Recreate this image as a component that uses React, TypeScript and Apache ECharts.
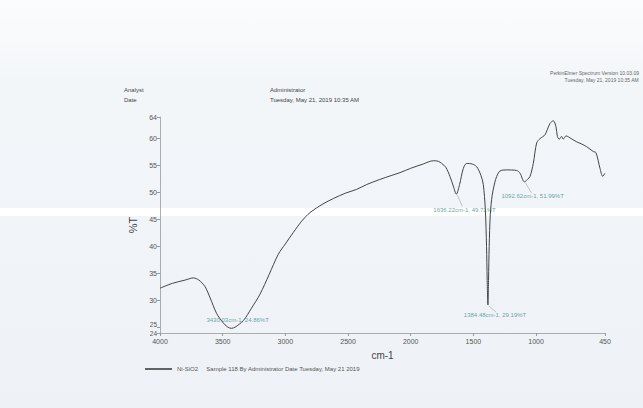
import React, { useEffect, useRef } from "react";
import * as echarts from "echarts";

const wavenumbers = [4000, 3900, 3800, 3734, 3690, 3641, 3600, 3548, 3500, 3460, 3430, 3400, 3335, 3270, 3202, 3130, 3056, 3000, 2937, 2870, 2803, 2700, 2617, 2520, 2431, 2351, 2250, 2150, 2085, 2000, 1900, 1820, 1780, 1753, 1720, 1687, 1660, 1636, 1610, 1580, 1553, 1510, 1474, 1440, 1421, 1405, 1395, 1390, 1384, 1379, 1374, 1365, 1350, 1330, 1314, 1288, 1234, 1155, 1128, 1093, 1070, 1048, 1022, 995, 968, 929, 889, 862, 841, 830, 815, 796, 783, 761, 720, 676, 636, 596, 543, 522, 490, 468, 450];
const transmittance = [32.3, 33.2, 33.8, 34.2, 33.8, 32.6, 30.5, 27.6, 26.0, 25.1, 24.86, 25.1, 26.3, 28.6, 31.2, 34.8, 38.6, 40.5, 42.6, 44.7, 46.3, 47.9, 48.9, 49.9, 50.6, 51.5, 52.4, 53.2, 53.7, 54.5, 55.3, 55.9, 55.8, 55.4, 54.7, 53.0, 51.2, 49.71, 51.5, 54.5, 55.4, 55.3, 54.8, 53.2, 51.5, 47, 40, 34, 29.19, 34, 40, 46, 49.5, 51.8, 53, 54, 54.2, 54.1, 53.6, 51.99, 52.4, 53, 55.4, 59.2, 60.0, 60.7, 62.8, 63.3, 62.2, 60.4, 59.9, 60.4, 59.9, 60.5, 60.0, 59.4, 59.0, 58.5, 57.6, 57.4, 54.5, 53.0, 53.6];

const xTickLabels = [4000, 3500, 3000, 2500, 2000, 1500, 1000, 450];
const yTickValues = [24, 25, 30, 35, 40, 45, 50, 55, 60, 64];
const yTickLabels = [30, 35, 40, 45, 50, 55, 60, 64];
const yLabel25 = [25];
const yLabel24 = [24];

const peakWn = [3430.03, 1636.22, 1384.48, 1092.62];
const peakT = [24.86, 49.71, 29.19, 51.99];
const peakOffsets = [[-25, -8], [-23, 16], [-24, 10], [-23, 14]];
const leaderEnds = [null, [6, 12], [8, 7], [7, 11]];

export default function App() {
  const ref = useRef<HTMLDivElement>(null);
  useEffect(() => {
    const chart = echarts.init(ref.current!, null, { renderer: "svg" });
    const line = wavenumbers.map((w, i) => [w, transmittance[i]]);
    const font = "Arial, 'Liberation Sans', sans-serif";
    const peaks = peakWn.map((w, i) => ({
      value: [w, peakT[i]],
      label: {
        show: true,
        position: "inside",
        align: "left",
        verticalAlign: "middle",
        formatter: `${w.toFixed(2)}cm-1, ${peakT[i].toFixed(2)}%T`,
      },
    }));
    const yLabelBase = { fontSize: 7, color: "#555", margin: 3, fontFamily: font, formatter: (v: number) => String(v) };
    const hiddenAxis = {
      type: "value",
      min: 24,
      max: 64,
      position: "left",
      axisLine: { show: false },
      axisTick: { show: false },
      splitLine: { show: false },
    };
    const staticGraphic: any[] = [
      { id: "band", type: "rect", shape: { x: 0, y: 208, width: 643, height: 8 }, style: { fill: "#ffffff" }, z: -10 },
      { id: "t1", type: "text", left: 124, top: 87, style: { text: "Analyst", fontSize: 6, fill: "#444", fontFamily: font } },
      { id: "t2", type: "text", left: 124, top: 97, style: { text: "Date", fontSize: 6, fill: "#444", fontFamily: font } },
      { id: "t3", type: "text", left: 270, top: 87, style: { text: "Administrator", fontSize: 6, fill: "#444", fontFamily: font } },
      { id: "t4", type: "text", left: 270, top: 97, style: { text: "Tuesday, May 21, 2019 10:35 AM", fontSize: 6, fill: "#444", fontFamily: font } },
      { id: "t5", type: "text", right: 4, top: 70, style: { text: "PerkinElmer Spectrum Version 10.03.09", fontSize: 5, fill: "#666", fontFamily: font } },
      { id: "t6", type: "text", right: 4, top: 77, style: { text: "Tuesday, May 21, 2019 10:35 AM", fontSize: 5, fill: "#666", fontFamily: font } },
    ];
    chart.setOption({
      animation: false,
      backgroundColor: new echarts.graphic.LinearGradient(0, 0, 0, 1, [
        { offset: 0, color: "#fbfcfd" },
        { offset: 0.2, color: "#f3f6f9" },
        { offset: 1, color: "#eef2f7" },
      ]),
      grid: { left: 160, right: 38, top: 117, bottom: 75 },
      xAxis: {
        type: "value",
        min: 450,
        max: 4000,
        inverse: true,
        name: "cm-1",
        nameLocation: "middle",
        nameGap: 17,
        nameTextStyle: { fontSize: 10, color: "#444", fontFamily: font },
        axisLine: { show: true, lineStyle: { color: "#999", width: 0.8 } },
        axisTick: { show: true, length: 3, customValues: xTickLabels, lineStyle: { color: "#999" } },
        axisLabel: {
          customValues: xTickLabels,
          fontSize: 7,
          color: "#555",
          margin: 5,
          fontFamily: font,
          formatter: (v: number) => String(v),
        },
        splitLine: { show: false },
      },
      yAxis: [
        {
          type: "value",
          min: 24,
          max: 64,
          name: "%T",
          nameLocation: "middle",
          nameGap: 17,
          nameRotate: 90,
          nameTextStyle: { fontSize: 11, color: "#444", fontFamily: font },
          axisLine: { show: true, lineStyle: { color: "#999", width: 0.8 } },
          axisTick: { show: true, length: 3, customValues: yTickValues, lineStyle: { color: "#999" } },
          axisLabel: { ...yLabelBase, customValues: yTickLabels, padding: [2, 0, 0, 0] },
          splitLine: { show: false },
        },
        { ...hiddenAxis, axisLabel: { ...yLabelBase, fontSize: 6.5, customValues: yLabel25, verticalAlign: "bottom" } },
        { ...hiddenAxis, axisLabel: { ...yLabelBase, fontSize: 6.5, customValues: yLabel24, verticalAlign: "middle" } },
      ],
      legend: {
        left: 145,
        top: 366,
        itemWidth: 27,
        itemHeight: 1.5,
        itemGap: 6,
        padding: 0,
        textStyle: { fontSize: 6, color: "#555", fontFamily: font },
        formatter: (n: string) => `${n}     Sample 118 By Administrator Date Tuesday, May 21 2019`,
        data: [{ name: "Ni-SiO2", icon: "rect", itemStyle: { color: "#333" } }],
      },
      series: [
        {
          name: "Ni-SiO2",
          type: "line",
          data: line,
          showSymbol: false,
          symbol: "none",
          smooth: 0.3,
          lineStyle: { color: "#444", width: 1 },
          itemStyle: { color: "#333" },
        },
        {
          name: "peaks",
          type: "scatter",
          data: peaks,
          symbolSize: 0,
          silent: true,
          label: { fontSize: 6, color: "#3d8c8c", fontFamily: font },
          labelLayout: (p: any) => ({ dx: peakOffsets[p.dataIndex][0], dy: peakOffsets[p.dataIndex][1] }),
        },
      ],
      graphic: staticGraphic,
    });
    const leaders: any[] = [];
    peakWn.forEach((w, i) => {
      const end = leaderEnds[i];
      if (!end) return;
      const [px, py] = chart.convertToPixel({ gridIndex: 0 }, [w, peakT[i]]) as number[];
      leaders.push({
        id: "leader" + i,
        type: "line",
        shape: { x1: px + 1, y1: py + 1, x2: px + end[0], y2: py + end[1] },
        style: { stroke: "#8fa8a8", lineWidth: 0.6 },
        silent: true,
      });
    });
    chart.setOption({ graphic: [...staticGraphic, ...leaders] });
    return () => chart.dispose();
  }, []);
  return <div ref={ref} style={{ position: "fixed", left: 0, top: 0, width: 643, height: 408 }} />;
}
